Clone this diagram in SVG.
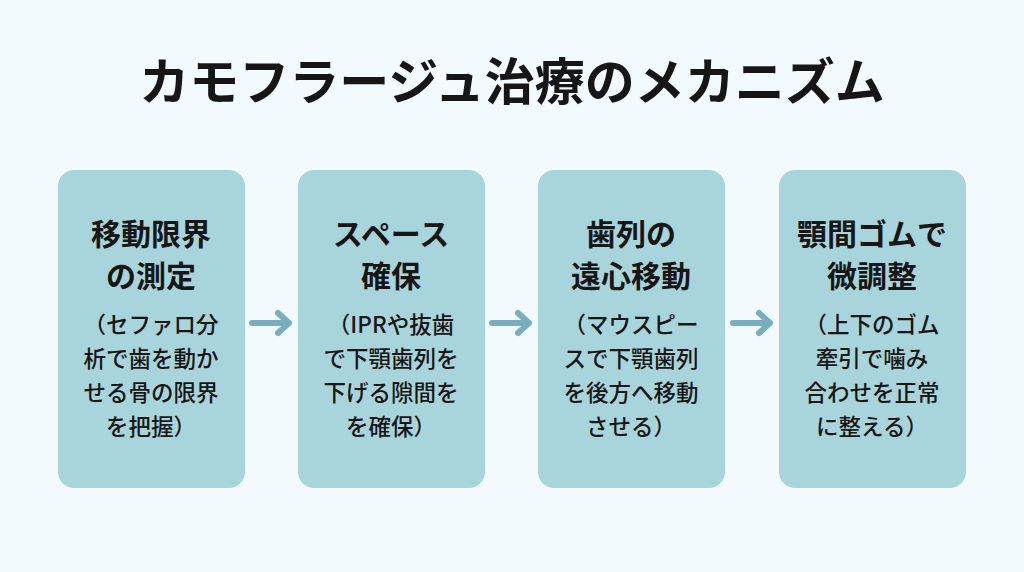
<svg xmlns="http://www.w3.org/2000/svg" width="1024" height="572" viewBox="0 0 1024 572">
<style>
text{font-family:"Noto Sans CJK JP","Noto Sans",sans-serif;fill:#161616;text-anchor:middle}
.t{font-size:50px;font-weight:700}
.h{font-size:30px;font-weight:700}
.s{font-size:22.5px;font-weight:500}
.box{fill:#a8d5dc}
.arr{stroke:#78aebd;stroke-width:6;fill:none;stroke-linecap:round;stroke-linejoin:round}
</style>
<rect width="1024" height="572" fill="#f3fafd"/>
<text class="t" x="512" y="100">カモフラージュ治療のメカニズム</text>
<g id="n1"><rect class="box" x="58" y="170" width="187" height="318" rx="16"/>
<text class="h" x="151" y="245">移動限界</text><text class="h" x="151" y="287">の測定</text>
<text class="s" x="151" y="333">（セファロ分</text><text class="s" x="151" y="367">析で歯を動か</text><text class="s" x="151" y="401">せる骨の限界</text><text class="s" x="151" y="435">を把握）</text></g>
<g id="n2"><rect class="box" x="298" y="170" width="187" height="318" rx="16"/>
<text class="h" x="391" y="245">スペース</text><text class="h" x="391" y="287">確保</text>
<text class="s" x="391" y="333">（IPRや抜歯</text><text class="s" x="391" y="367">で下顎歯列を</text><text class="s" x="391" y="401">下げる隙間を</text><text class="s" x="391" y="435">を確保）</text></g>
<g id="n3"><rect class="box" x="538" y="170" width="187" height="318" rx="16"/>
<text class="h" x="631" y="245">歯列の</text><text class="h" x="631" y="287">遠心移動</text>
<text class="s" x="631" y="333">（マウスピー</text><text class="s" x="631" y="367">スで下顎歯列</text><text class="s" x="631" y="401">を後方へ移動</text><text class="s" x="631" y="435">させる）</text></g>
<g id="n4"><rect class="box" x="779" y="170" width="187" height="318" rx="16"/>
<text class="h" x="872" y="245">顎間ゴムで</text><text class="h" x="872" y="287">微調整</text>
<text class="s" x="872" y="333">（上下のゴム</text><text class="s" x="872" y="367">牽引で噛み</text><text class="s" x="872" y="401">合わせを正常</text><text class="s" x="872" y="435">に整える）</text></g>
<g id="connectors">
<path class="arr" d="M252 323H288M278 313L289 323L278 333"/>
<path class="arr" d="M492 323H528M518 313L529 323L518 333"/>
<path class="arr" d="M733 323H769M759 313L770 323L759 333"/>
</g>
</svg>
